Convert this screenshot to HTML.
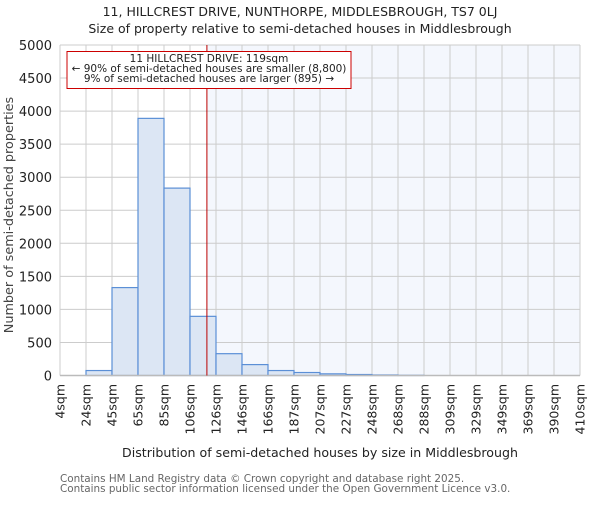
<!DOCTYPE html>
<html><head><meta charset="utf-8"><style>
body{margin:0;background:#fff;}
svg{font-family:"DejaVu Sans","Liberation Sans",sans-serif;}
</style></head><body>
<svg id="chart" width="600" height="500" viewBox="0 0 600 500">
<text x="300" y="16" text-anchor="middle" font-size="12.5" fill="#222">11, HILLCREST DRIVE, NUNTHORPE, MIDDLESBROUGH, TS7 0LJ</text>
<text x="300" y="33" text-anchor="middle" font-size="12.5" fill="#222">Size of property relative to semi-detached houses in Middlesbrough</text>
<g id="plot"></g>
<text x="320" y="457" text-anchor="middle" font-size="12.6" fill="#222">Distribution of semi-detached houses by size in Middlesbrough</text>
<text transform="translate(13,215) rotate(-90)" text-anchor="middle" font-size="12.8" fill="#444">Number of semi-detached properties</text>
<text x="60" y="482" font-size="10.4" fill="#666">Contains HM Land Registry data © Crown copyright and database right 2025.</text>
<text x="60" y="492" font-size="10.4" fill="#666">Contains public sector information licensed under the Open Government Licence v3.0.</text>
</svg>
<script>
const binLabels=["4sqm","24sqm","45sqm","65sqm","85sqm","106sqm","126sqm","146sqm","166sqm","187sqm","207sqm","227sqm","248sqm","268sqm","288sqm","309sqm","329sqm","349sqm","369sqm","390sqm","410sqm"];
const counts=[0,75,1330,3890,2835,895,330,165,75,45,25,15,8,3,0,0,0,0,0,0];
const yTicks=[0,500,1000,1500,2000,2500,3000,3500,4000,4500,5000];
const propertyBinPos=5.65;
const annotationLines=["11 HILLCREST DRIVE: 119sqm","← 90% of semi-detached houses are smaller (8,800)","9% of semi-detached houses are larger (895) →"];

const NS="http://www.w3.org/2000/svg";
const g=document.getElementById('plot');
const L=60,R=580,T=45,B=375.5,yMax=5000;
const bw=(R-L)/counts.length;
const xs=i=>L+i*bw;
const ys=v=>B-(v/yMax)*(B-T);
function mk(tag,attrs,parent){const e=document.createElementNS(NS,tag);for(const k in attrs)e.setAttribute(k,attrs[k]);(parent||g).appendChild(e);return e;}

const px=xs(propertyBinPos);
let e=mk('rect',{x:px,y:T,width:R-px,height:B-T,fill:"#f4f7fd"});



yTicks.forEach(v=>{
  let l=mk('line',{x1:L,x2:R,y1:ys(v),y2:ys(v),stroke:"#ccc","stroke-width":1});
  
  
  let t=mk('text',{x:L-8,y:ys(v)+5,"text-anchor":"end","font-size":"13",fill:"#222"});
  t.textContent=v;
  
  
});
binLabels.forEach((lab,i)=>{
  let l=mk('line',{x1:xs(i),x2:xs(i),y1:T,y2:B,stroke:"#ccc","stroke-width":1});
  
  
  let t=mk('text',{transform:`translate(${xs(i)+4.5},384) rotate(-90)`,"text-anchor":"end","font-size":"12.5",fill:"#222"});
  t.textContent=lab;
  
  
});
counts.forEach((c,i)=>{
  if(c<=0)return;
  let r=mk('rect',{x:xs(i),y:ys(c),width:bw,height:B-ys(c),fill:"#dce6f4",stroke:"#5b8fd6","stroke-width":1.2});
  
  
});
e=mk('line',{x1:L,x2:R,y1:B,y2:B,stroke:"#bbb","stroke-width":1.5});


e=mk('line',{x1:px,x2:px,y1:T,y2:B,stroke:"#b00","stroke-width":1});


e=mk('rect',{x:67,y:51.5,width:284,height:37,fill:"#fff",stroke:"#c00","stroke-width":1});


annotationLines.forEach((s,i)=>{
  let t=mk('text',{x:209,y:62+i*10,"text-anchor":"middle","font-size":"10.5",fill:"#222"});
  t.textContent=s;
  
  
});
</script>
</body></html>
